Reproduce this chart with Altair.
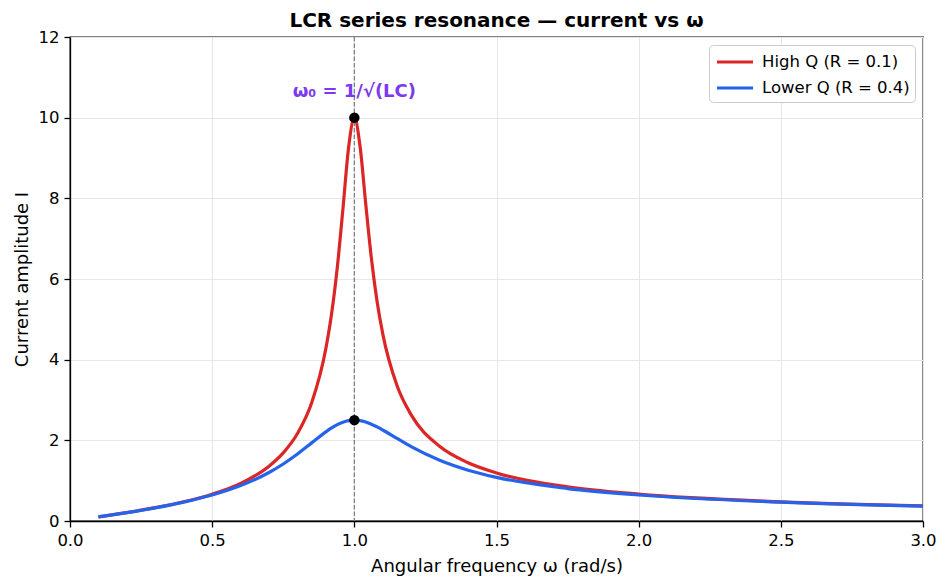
import altair as alt
import pandas as pd

# Angular frequency samples (rad/s)
omega = [0.1, 0.2, 0.3, 0.4, 0.5, 0.6, 0.7, 0.75, 0.8, 0.85, 0.9, 0.92, 0.94,
         0.96, 0.98, 1.0, 1.02, 1.04, 1.06, 1.08, 1.1, 1.15, 1.2, 1.3, 1.4,
         1.5, 1.75, 2.0, 2.5, 3.0]

# Current amplitude, R = 0.1
current_high_q = [0.101, 0.208, 0.330, 0.476, 0.665, 0.933, 1.360, 1.690, 2.169,
                  2.929, 4.281, 5.138, 6.283, 7.745, 9.272, 10.0, 9.297, 7.867,
                  6.510, 5.444, 4.640, 3.359, 2.631, 1.852, 1.443, 1.192, 0.845,
                  0.665, 0.476, 0.375]

# Current amplitude, R = 0.4
current_low_q = [0.101, 0.208, 0.327, 0.468, 0.644, 0.878, 1.203, 1.414, 1.661,
                 1.937, 2.211, 2.307, 2.388, 2.450, 2.487, 2.5, 2.488, 2.453,
                 2.400, 2.333, 2.256, 2.047, 1.843, 1.505, 1.260, 1.082, 0.804,
                 0.644, 0.468, 0.371]

series_names = ["High Q (R = 0.1)", "Lower Q (R = 0.4)"]
series_colors = ["#dc2626", "#2563eb"]

peak_omega = [1.0, 1.0]
peak_current = [10.0, 2.5]

resonance_omega = 1.0
label_text = "ω₀ = 1/√(LC)"
label_y = 10.63

rows = []
for w, a in zip(omega, current_high_q):
    rows.append({"omega": w, "I": a, "series": series_names[0], "order": 0})
for w, b in zip(omega, current_low_q):
    rows.append({"omega": w, "I": b, "series": series_names[1], "order": 1})
curves = pd.DataFrame(rows)
peaks = pd.DataFrame({"omega": peak_omega, "I": peak_current})
vline = pd.DataFrame({"omega": [resonance_omega]})
label = pd.DataFrame({"omega": [resonance_omega], "I": [label_y], "text": [label_text]})

FONT = "DejaVu Sans"

x_scale = alt.Scale(domain=[0, 3], nice=False, zero=False)
y_scale = alt.Scale(domain=[0, 12], nice=False)

x_axis = alt.Axis(title="Angular frequency ω (rad/s)", values=[0, 0.5, 1, 1.5, 2, 2.5, 3],
                  format=".1f", titlePadding=9)
y_axis = alt.Axis(title="Current amplitude I", values=[0, 2, 4, 6, 8, 10, 12], format="d",
                  titlePadding=7)

lines = alt.Chart(curves).mark_line(strokeWidth=3.2, interpolate="monotone").encode(
    x=alt.X("omega:Q", scale=x_scale, axis=x_axis),
    y=alt.Y("I:Q", scale=y_scale, axis=y_axis),
    color=alt.Color(
        "series:N",
        scale=alt.Scale(domain=series_names, range=series_colors),
        legend=alt.Legend(
            title=None, orient="top-right", offset=8,
            symbolType="M-1.8,0H1.8", symbolStrokeWidth=3.2, symbolSize=400,
            symbolOffset=9, labelOffset=15,
            labelFontSize=16.5, labelFont=FONT, labelColor="#000000",
            padding=5, rowPadding=5, strokeColor="#cccccc", cornerRadius=4,
            fillColor="rgba(255,255,255,0.85)",
        ),
    ),
    order=alt.Order("order:Q"),
)

rule = alt.Chart(vline).mark_rule(color="#808080", strokeDash=[4.5, 2], strokeWidth=1.3).encode(
    x="omega:Q"
)

dots = alt.Chart(peaks).mark_circle(color="black", size=110, opacity=1).encode(
    x="omega:Q", y="I:Q"
)

text = alt.Chart(label).mark_text(
    color="#7c3aed", fontWeight="bold", fontSize=18, font=FONT,
    align="center", baseline="middle",
).encode(x="omega:Q", y="I:Q", text="text:N")

chart = alt.layer(rule, lines, dots, text).properties(
    width=853,
    height=484,
    title=alt.TitleParams(
        "LCR series resonance — current vs ω", fontSize=20, fontWeight="bold",
        font=FONT, anchor="middle", offset=-2, color="#000000",
    ),
    autosize=alt.AutoSizeParams(type="none"),
    padding={"left": 70, "top": 37, "right": 25, "bottom": 66},
).configure_view(
    stroke="black", strokeWidth=1.3
).configure_axis(
    labelFont=FONT, titleFont=FONT, labelFontSize=16.5,
    titleFontSize=18, titleFontWeight="normal", labelColor="#000000",
    titleColor="#000000", domainColor="#000000", domainWidth=1.3,
    tickColor="#000000", tickWidth=1.3,
    tickSize=6, gridColor="#e6e6e6", gridWidth=1, labelPadding=5, labelFlush=False,
)

chart.save("out.html", embed_options={"renderer": "svg", "actions": False})
